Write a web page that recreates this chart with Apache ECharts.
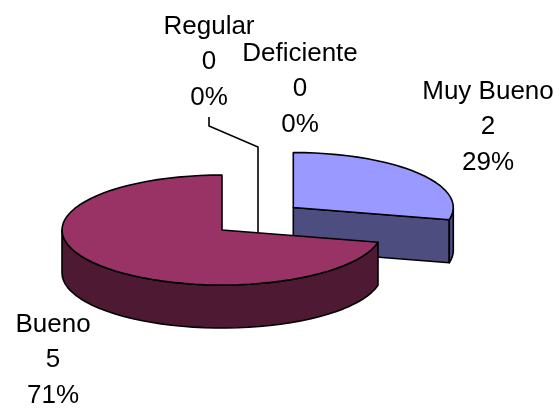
<!DOCTYPE html>
<html>
<head>
<meta charset="utf-8">
<style>html,body{margin:0;padding:0;background:#fff}#c{width:560px;height:409px}</style>
<script src="https://cdn.jsdelivr.net/npm/echarts@6/dist/echarts.min.js"></script>
</head>
<body>
<div id="c"></div>
<script>
const categories = ["Muy Bueno", "Bueno", "Regular", "Deficiente"];
const values = [2, 5, 0, 0];

const total = values.reduce((a, b) => a + b, 0);
const RX = 160, RY = 55, DEPTH = 43, CX = 222, CY = 230;
const topColors = { "Muy Bueno": "#9999FF", "Bueno": "#993366" };
const sideColors = { "Muy Bueno": "#4D4D80", "Bueno": "#4D1933" };
const explode = { "Muy Bueno": [71.3, -22.5] };
const labelPos = {
  "Muy Bueno": [488, 92],
  "Bueno": [53, 325],
  "Regular": [209, 27],
  "Deficiente": [300, 54]
};
const LINE_H = 35.3;
const leader = { "Regular": [[209, 117], [209, 126], [258, 147], [258, 232]] };
const zOrder = { "Muy Bueno": 1, "Regular": 2, "Deficiente": 2, "Bueno": 3 };
const STROKE = { stroke: "#000", lineWidth: 1.6, lineJoin: "round" };

function pt(cx, cy, deg, dy) {
  const a = (90 - deg) * Math.PI / 180;
  return [cx + RX * Math.cos(a), cy - RY * Math.sin(a) + (dy || 0)];
}
function arc(cx, cy, from, to, dy) {
  const n = Math.max(1, Math.ceil((to - from) / 4));
  const out = [];
  for (let i = 0; i <= n; i++) out.push(pt(cx, cy, from + (to - from) * i / n, dy));
  return out;
}

function renderItem(params, api) {
  const i = params.dataIndex;
  const name = categories[i];
  const v = api.value(0);
  let start = 0;
  for (let k = 0; k < i; k++) start += values[k];
  const a0 = start / total * 360, a1 = (start + v) / total * 360;
  const off = explode[name] || [0, 0];
  const cx = CX + off[0], cy = CY + off[1];
  const z2 = zOrder[name];
  const children = [];

  if (v > 0) {
    const shape = pts => ({ type: "polygon", z2, shape: { points: pts } });
    const fill = c => Object.assign({ fill: c }, STROKE);

    // cut wall facing the viewer, visible when the slice ends on the right front
    if (a1 > 90 && a1 < 180) {
      const e = pt(cx, cy, a1);
      const wall = shape([[cx, cy], e, [e[0], e[1] + DEPTH], [cx, cy + DEPTH]]);
      wall.style = fill(sideColors[name]);
      children.push(wall);
    }
    // outer rim: the part of the arc on the front half of the ellipse
    const f0 = Math.max(a0, 90), f1 = Math.min(a1, 270);
    if (f1 > f0) {
      const rimTop = arc(cx, cy, f0, f1);
      const rimBot = arc(cx, cy, f0, f1, DEPTH).reverse();
      const rim = shape(rimTop.concat(rimBot));
      rim.style = fill(sideColors[name]);
      children.push(rim);
    }
    // top face
    const top = shape([[cx, cy]].concat(arc(cx, cy, a0, a1)));
    top.style = fill(topColors[name]);
    children.push(top);
  }

  if (leader[name]) {
    children.push({
      type: "polyline", z2,
      shape: { points: leader[name] },
      style: { fill: null, stroke: "#000", lineWidth: 1.6 }
    });
  }

  const pct = Math.round(v / total * 100) + "%";
  const lp = labelPos[name];
  [name, String(v), pct].forEach((t, k) => {
    children.push({
      type: "text", z2: 5,
      style: {
        text: t, x: lp[0], y: lp[1] + k * LINE_H,
        align: "center", verticalAlign: "middle",
        font: "26px 'Liberation Sans', Arial, sans-serif", fill: "#000"
      }
    });
  });
  return { type: "group", children };
}

const chart = echarts.init(document.getElementById("c"), null, { renderer: "canvas" });
chart.setOption({
  backgroundColor: "#fff",
  animation: false,
  series: [{
    type: "custom",
    coordinateSystem: "none",
    renderItem,
    data: values.map((v, i) => ({ name: categories[i], value: [v] }))
  }]
});
</script>
</body>
</html>
